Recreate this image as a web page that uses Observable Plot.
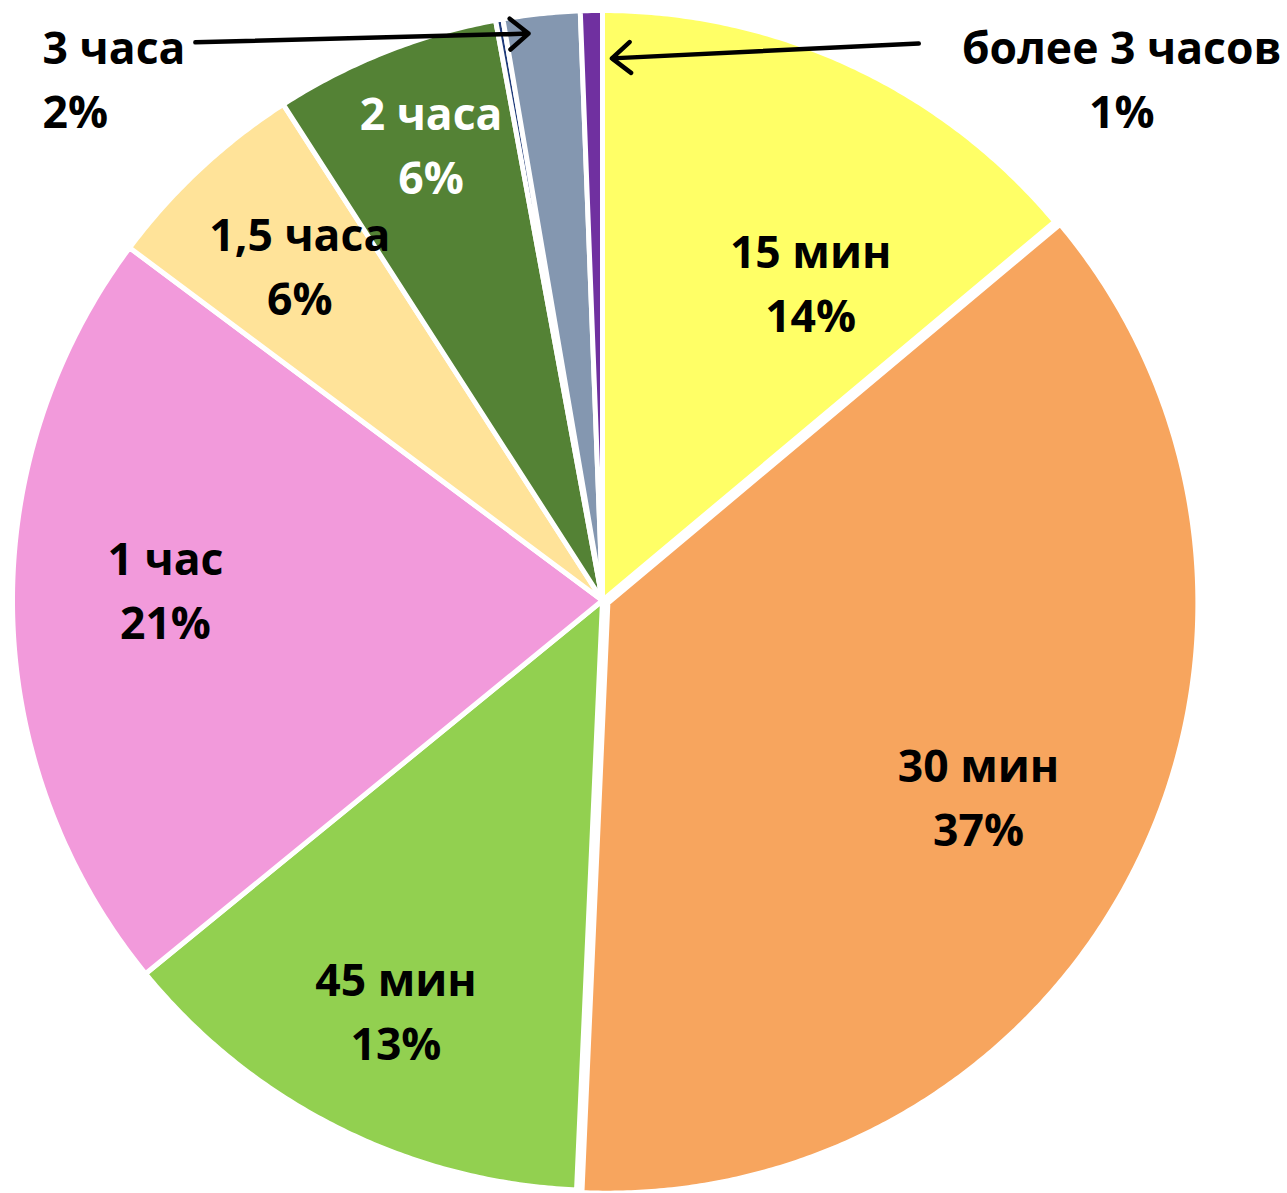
<!DOCTYPE html>
<html>
<head>
<meta charset="utf-8">
<script src="https://cdn.jsdelivr.net/npm/d3@7"></script>
<script src="https://cdn.jsdelivr.net/npm/@observablehq/plot@0.6"></script>
<style>
  html, body { margin: 0; padding: 0; background: #ffffff; }
  #chart svg { display: block; }
</style>
</head>
<body>
<div id="chart"></div>
<script>
// ---- data ----
const categories = ["15 мин", "30 мин", "45 мин", "1 час", "1,5 часа", "2 часа", "2,5 часа", "3 часа", "более 3 часов"];
const shares = [13.9, 36.8, 13.4, 21.1, 5.7, 6.2, 0.2, 2.1, 0.6];
const percentLabels = ["14%", "37%", "13%", "21%", "6%", "6%", "", "2%", "1%"];
const colors = ["#FFFF66", "#F7A55E", "#92D050", "#F29ADB", "#FFE399", "#548235", "#1F3B7A", "#8497B0", "#7030A0"];

// ---- layout ----
const W = 1287, H = 1193, R = 590, CX = 602, CY = 600;
const FONT = "'Open Sans', 'DejaVu Sans', sans-serif";
const FS = 44.5;
const deg = Math.PI / 180;
const explode = {"30 мин": 6 / R};
// label radius (fraction of R) and angular nudge (deg) for inside labels
const insideLayout = {
  "15 мин": [0.644, 8.2], "30 мин": [0.719, 1.3], "45 мин": [0.778, 0.1],
  "1 час": [0.741, 2.7], "1,5 часа": [0.765, 0.9], "2 часа": [0.826, 1.0]
};
const whiteText = new Set(["2 часа"]);
// outside labels: anchor (fraction of R), arrow start, arrow tip radius & angle
const outsideLayout = {
  "3 часа": {lx: -0.949, ly: 0.884, anchor: "start", sx: -0.690, sy: 0.946, tipR: 0.969, from: "mid", tipDeg: -1.5},
  "более 3 часов": {lx: 0.880, ly: 0.884, anchor: "middle", sx: 0.536, sy: 0.944, tipR: 0.919, from: "end", tipDeg: 1.0}
};

// ---- derive slices ----
const total = d3.sum(shares);
let acc = 0;
const slices = categories.map((cat, i) => {
  const a0 = acc / total * 2 * Math.PI;
  acc += shares[i];
  const a1 = acc / total * 2 * Math.PI;
  return {cat, i, a0, a1, mid: (a0 + a1) / 2, label: percentLabels[i]};
});

const pts = [];
for (const s of slices) {
  const e = explode[s.cat] || 0;
  const ox = e * Math.sin(s.mid), oy = e * Math.cos(s.mid);
  const n = Math.max(2, Math.ceil((s.a1 - s.a0) / (0.4 * deg)));
  pts.push({cat: s.cat, x: ox, y: oy});
  for (let k = 0; k <= n; k++) {
    const a = s.a0 + (s.a1 - s.a0) * k / n;
    pts.push({cat: s.cat, x: ox + Math.sin(a), y: oy + Math.cos(a)});
  }
  pts.push({cat: s.cat, x: ox, y: oy});
}

const inside = slices.filter(s => insideLayout[s.cat]).map(s => {
  const [r, nudge] = insideLayout[s.cat];
  const a = s.mid + nudge * deg;
  return {cat: s.cat, x: r * Math.sin(a), y: r * Math.cos(a), text: s.cat + "\n" + s.label};
});

const outside = slices.filter(s => outsideLayout[s.cat]).map(s => {
  const L = outsideLayout[s.cat];
  const a = (L.from === "end" ? s.a1 : s.mid) + L.tipDeg * deg;
  return {cat: s.cat, x: L.lx, y: L.ly, anchor: L.anchor, text: s.cat + "\n" + s.label,
          x1: L.sx, y1: L.sy, x2: L.tipR * Math.sin(a), y2: L.tipR * Math.cos(a)};
});

const textOpts = {x: "x", y: "y", text: "text", fontSize: FS, fontWeight: "bold", fontFamily: FONT, lineHeight: 1.44, dy: -3};

const chart = Plot.plot({
  width: W, height: H, margin: 0,
  x: {domain: [-CX / R, (W - CX) / R], axis: null},
  y: {domain: [-(H - CY) / R, CY / R], axis: null},
  color: {domain: categories, range: colors},
  style: {background: "white", overflow: "visible"},
  marks: [
    Plot.line(pts, {x: "x", y: "y", z: "cat", fill: "cat", stroke: "white", strokeWidth: 5, curve: "linear"}),
    Plot.text(inside.filter(d => !whiteText.has(d.cat)), {...textOpts, fill: "black"}),
    Plot.text(inside.filter(d => whiteText.has(d.cat)), {...textOpts, fill: "white"}),
    Plot.text(outside.filter(d => d.anchor === "start"), {...textOpts, fill: "black", textAnchor: "start"}),
    Plot.text(outside.filter(d => d.anchor === "middle"), {...textOpts, fill: "black", textAnchor: "middle"}),
    Plot.arrow(outside, {x1: "x1", y1: "y1", x2: "x2", y2: "y2", stroke: "black", strokeWidth: 4.5, headLength: 8, headAngle: 80, bend: 0, strokeLinecap: "round", strokeLinejoin: "round"})
  ]
});
document.getElementById("chart").append(chart);
</script>
</body>
</html>
